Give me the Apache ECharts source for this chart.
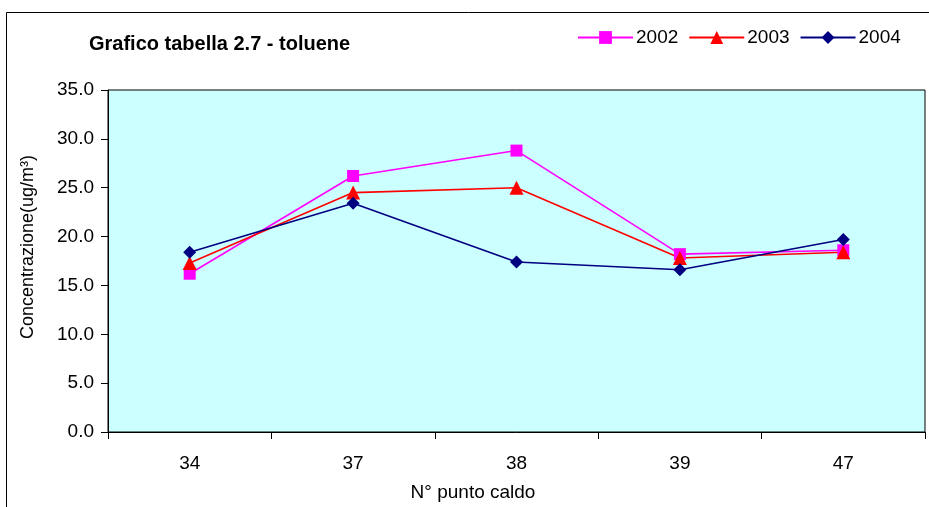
<!DOCTYPE html>
<html><head><meta charset="utf-8">
<script src="https://cdn.jsdelivr.net/npm/echarts@6/dist/echarts.min.js"></script>
<style>html,body{margin:0;padding:0;background:#fff}#c{width:929px;height:507px}</style>
</head><body><div id="c"></div>
<script>
var categories = ['34', '37', '38', '39', '47'];
var s2002 = [16.2, 26.2, 28.8, 18.2, 18.6];
var s2003 = [17.3, 24.5, 25.0, 17.8, 18.4];
var s2004 = [18.4, 23.4, 17.4, 16.6, 19.7];
var seriesNames = ['2002', '2003', '2004'];
var titleText = 'Grafico tabella 2.7 - toluene';
var yName = 'Concentrazione(ug/m³)';
var xName = 'N° punto caldo';

var chart = echarts.init(document.getElementById('c'));
var font = 'Arial, "Liberation Sans", sans-serif';
function mk(name, data, color, symbol, size) {
  return {
    name: name, type: 'line', data: data,
    symbol: symbol, symbolSize: size, showSymbol: true,
    lineStyle: {color: color, width: 1.6},
    itemStyle: {color: color},
    animation: false
  };
}
chart.setOption({
  animation: false,
  title: {text: titleText, left: 84, top: 29,
    textStyle: {fontFamily: font, fontWeight: 'bold', fontSize: 20, color: '#000'}},
  legend: {left: 572, top: 23, itemWidth: 55, itemHeight: 16, itemGap: 10,
    textStyle: {fontFamily: font, fontSize: 19, color: '#000', padding: [0,0,0,-2]},
    data: seriesNames},
  grid: {left: 108, right: 4, top: 90, bottom: 75, show: true,
    backgroundColor: '#CCFFFF', borderColor: '#000', borderWidth: 1},
  xAxis: {type: 'category', data: categories, boundaryGap: true,
    axisLine: {lineStyle: {color: '#000', width: 1}},
    axisTick: {show: true, length: 7, lineStyle: {color: '#000'}},
    axisLabel: {color: '#000', fontFamily: font, fontSize: 19, margin: 22}},
  yAxis: {type: 'value', min: 0, max: 35, interval: 5,
    axisLine: {show: true, lineStyle: {color: '#000', width: 1}},
    axisTick: {show: true, length: 7, lineStyle: {color: '#000'}},
    splitLine: {show: false},
    axisLabel: {color: '#000', fontFamily: font, fontSize: 19, margin: 14,
      formatter: function (v) { return v.toFixed(1); }}},
  graphic: [
    {type: 'rect', shape: {x: 6.5, y: 12.5, width: 1000, height: 1000},
      style: {fill: null, stroke: '#000', lineWidth: 1}, silent: true, z: -1},
    {type: 'text', x: 473, y: 493, style: {text: xName, fontFamily: font, fontSize: 19,
      fill: '#000', textAlign: 'center', textVerticalAlign: 'middle'}},
    {type: 'text', x: 28, y: 247, rotation: Math.PI / 2, style: {text: yName, fontFamily: font,
      fontSize: 18, fill: '#000', textAlign: 'center', textVerticalAlign: 'middle'}}
  ],
  series: [
    mk(seriesNames[0], s2002, '#FF00FF', 'rect', 12),
    mk(seriesNames[1], s2003, '#FF0000', 'triangle', 14),
    mk(seriesNames[2], s2004, '#000080', 'diamond', 13)
  ]
});
</script></body></html>
